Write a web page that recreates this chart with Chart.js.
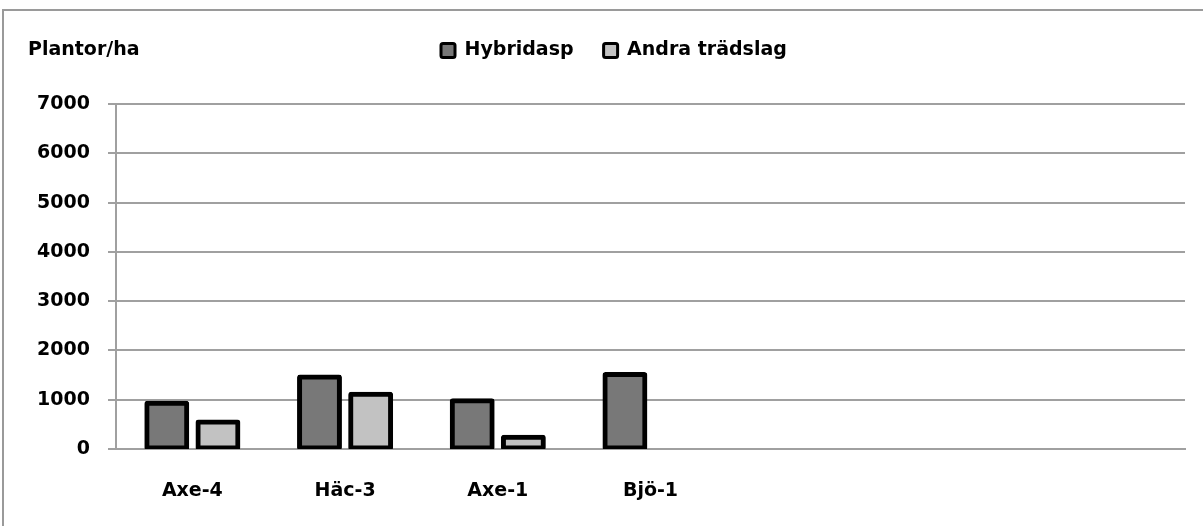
<!DOCTYPE html>
<html>
<head>
<meta charset="utf-8">
<script src="https://cdn.jsdelivr.net/npm/chart.js@4.4.1/dist/chart.umd.min.js"></script>
<style>
  html, body { margin: 0; padding: 0; background: #ffffff; }
  #wrap { width: 1203px; height: 526px; position: relative; }
</style>
</head>
<body>
<div id="wrap"><canvas id="c" width="1203" height="526"></canvas></div>
<script>
// ---- data ----
const categories = ['Axe-4', 'Häc-3', 'Axe-1', 'Bjö-1', '', '', ''];
const hybridasp = [930, 1460, 980, 1510, null, null, null];
const andraTradslag = [550, 1110, 240, null, null, null, null];
const seriesNames = ['Hybridasp', 'Andra trädslag'];
const yTicks = [0, 1000, 2000, 3000, 4000, 5000, 6000, 7000];
const yAxisTitle = 'Plantor/ha';

const FONT = '"DejaVu Sans"';
const FSIZE = 19;
const GRID = '#a0a0a0';

const framePlugin = {
  id: 'frame',
  beforeDraw(chart) {
    const ctx = chart.ctx;
    ctx.save();
    ctx.fillStyle = '#ffffff';
    ctx.fillRect(0, 0, chart.width, chart.height);
    ctx.strokeStyle = '#9a9a9a';
    ctx.lineWidth = 2;
    ctx.beginPath();
    ctx.moveTo(3, chart.height);
    ctx.lineTo(3, 10);
    ctx.lineTo(chart.width, 10);
    ctx.stroke();
    ctx.restore();
  },
  afterDraw(chart) {
    const ctx = chart.ctx;
    ctx.save();
    ctx.fillStyle = '#000';
    ctx.font = 'bold ' + FSIZE + 'px ' + FONT;
    ctx.textBaseline = 'middle';
    ctx.textAlign = 'left';
    ctx.fillText(yAxisTitle, 28, 50);
    ctx.restore();
  }
};

const legendPlugin = {
  id: 'legendFix',
  beforeInit(chart) {
    const lg = chart.legend;
    if (lg) {
      const orig = lg.fit;
      lg.fit = function () {
        orig.call(this);
        this.height = 93;
      };
    }
  },
  afterLayout(chart) {
    const lg = chart.legend;
    const pad = lg.options.labels.padding;
    lg.left = 441 - pad;
  }
};

new Chart(document.getElementById('c'), {
  type: 'bar',
  data: {
    labels: categories,
    datasets: [
      {
        label: seriesNames[0],
        data: hybridasp,
        backgroundColor: '#787878',
        borderColor: '#000000',
        borderWidth: 5,
        borderSkipped: false,
        borderRadius: 3,
        inflateAmount: 2.5
      },
      {
        label: seriesNames[1],
        data: andraTradslag,
        backgroundColor: '#c2c2c2',
        borderColor: '#000000',
        borderWidth: 5,
        borderSkipped: false,
        borderRadius: 3,
        inflateAmount: 2.5
      }
    ]
  },
  options: {
    responsive: false,
    animation: false,
    devicePixelRatio: 1,
    layout: { padding: { top: 11, right: 18, left: 0, bottom: 0 } },
    datasets: {
      bar: { categoryPercentage: 0.67, barPercentage: 0.78 }
    },
    plugins: {
      title: { display: false },
      tooltip: { enabled: false },
      legend: {
        display: true,
        position: 'top',
        align: 'start',
        labels: {
          color: '#000',
          font: { family: FONT, size: FSIZE, weight: 'bold' },
          boxWidth: 14,
          boxHeight: 14,
          padding: 30,
          generateLabels(chart) {
            return chart.data.datasets.map((ds, i) => ({
              text: ds.label,
              fillStyle: ds.backgroundColor,
              strokeStyle: '#000',
              lineWidth: 3,
              hidden: false,
              datasetIndex: i,
              borderRadius: 2
            }));
          }
        }
      }
    },
    scales: {
      x: {
        grid: { display: false, drawTicks: false },
        border: { display: true, color: GRID, width: 2 },
        ticks: {
          color: '#000',
          font: { family: FONT, size: FSIZE, weight: 'bold' },
          padding: 31,
          maxRotation: 0,
          autoSkip: false
        },
        afterFit(s) { s.height = 77; }
      },
      y: {
        min: 0,
        max: 7000,
        afterBuildTicks(s) { s.ticks = yTicks.map(v => ({ value: v })); },
        grid: { color: GRID, lineWidth: 2, drawTicks: true, tickLength: 8 },
        border: { display: true, color: GRID, width: 2 },
        ticks: {
          color: '#000',
          font: { family: FONT, size: FSIZE, weight: 'bold' },
          padding: 18,
          callback: (v) => String(v)
        },
        afterFit(s) { s.width = 116; }
      }
    }
  },
  plugins: [framePlugin, legendPlugin]
});
</script>
</body>
</html>
